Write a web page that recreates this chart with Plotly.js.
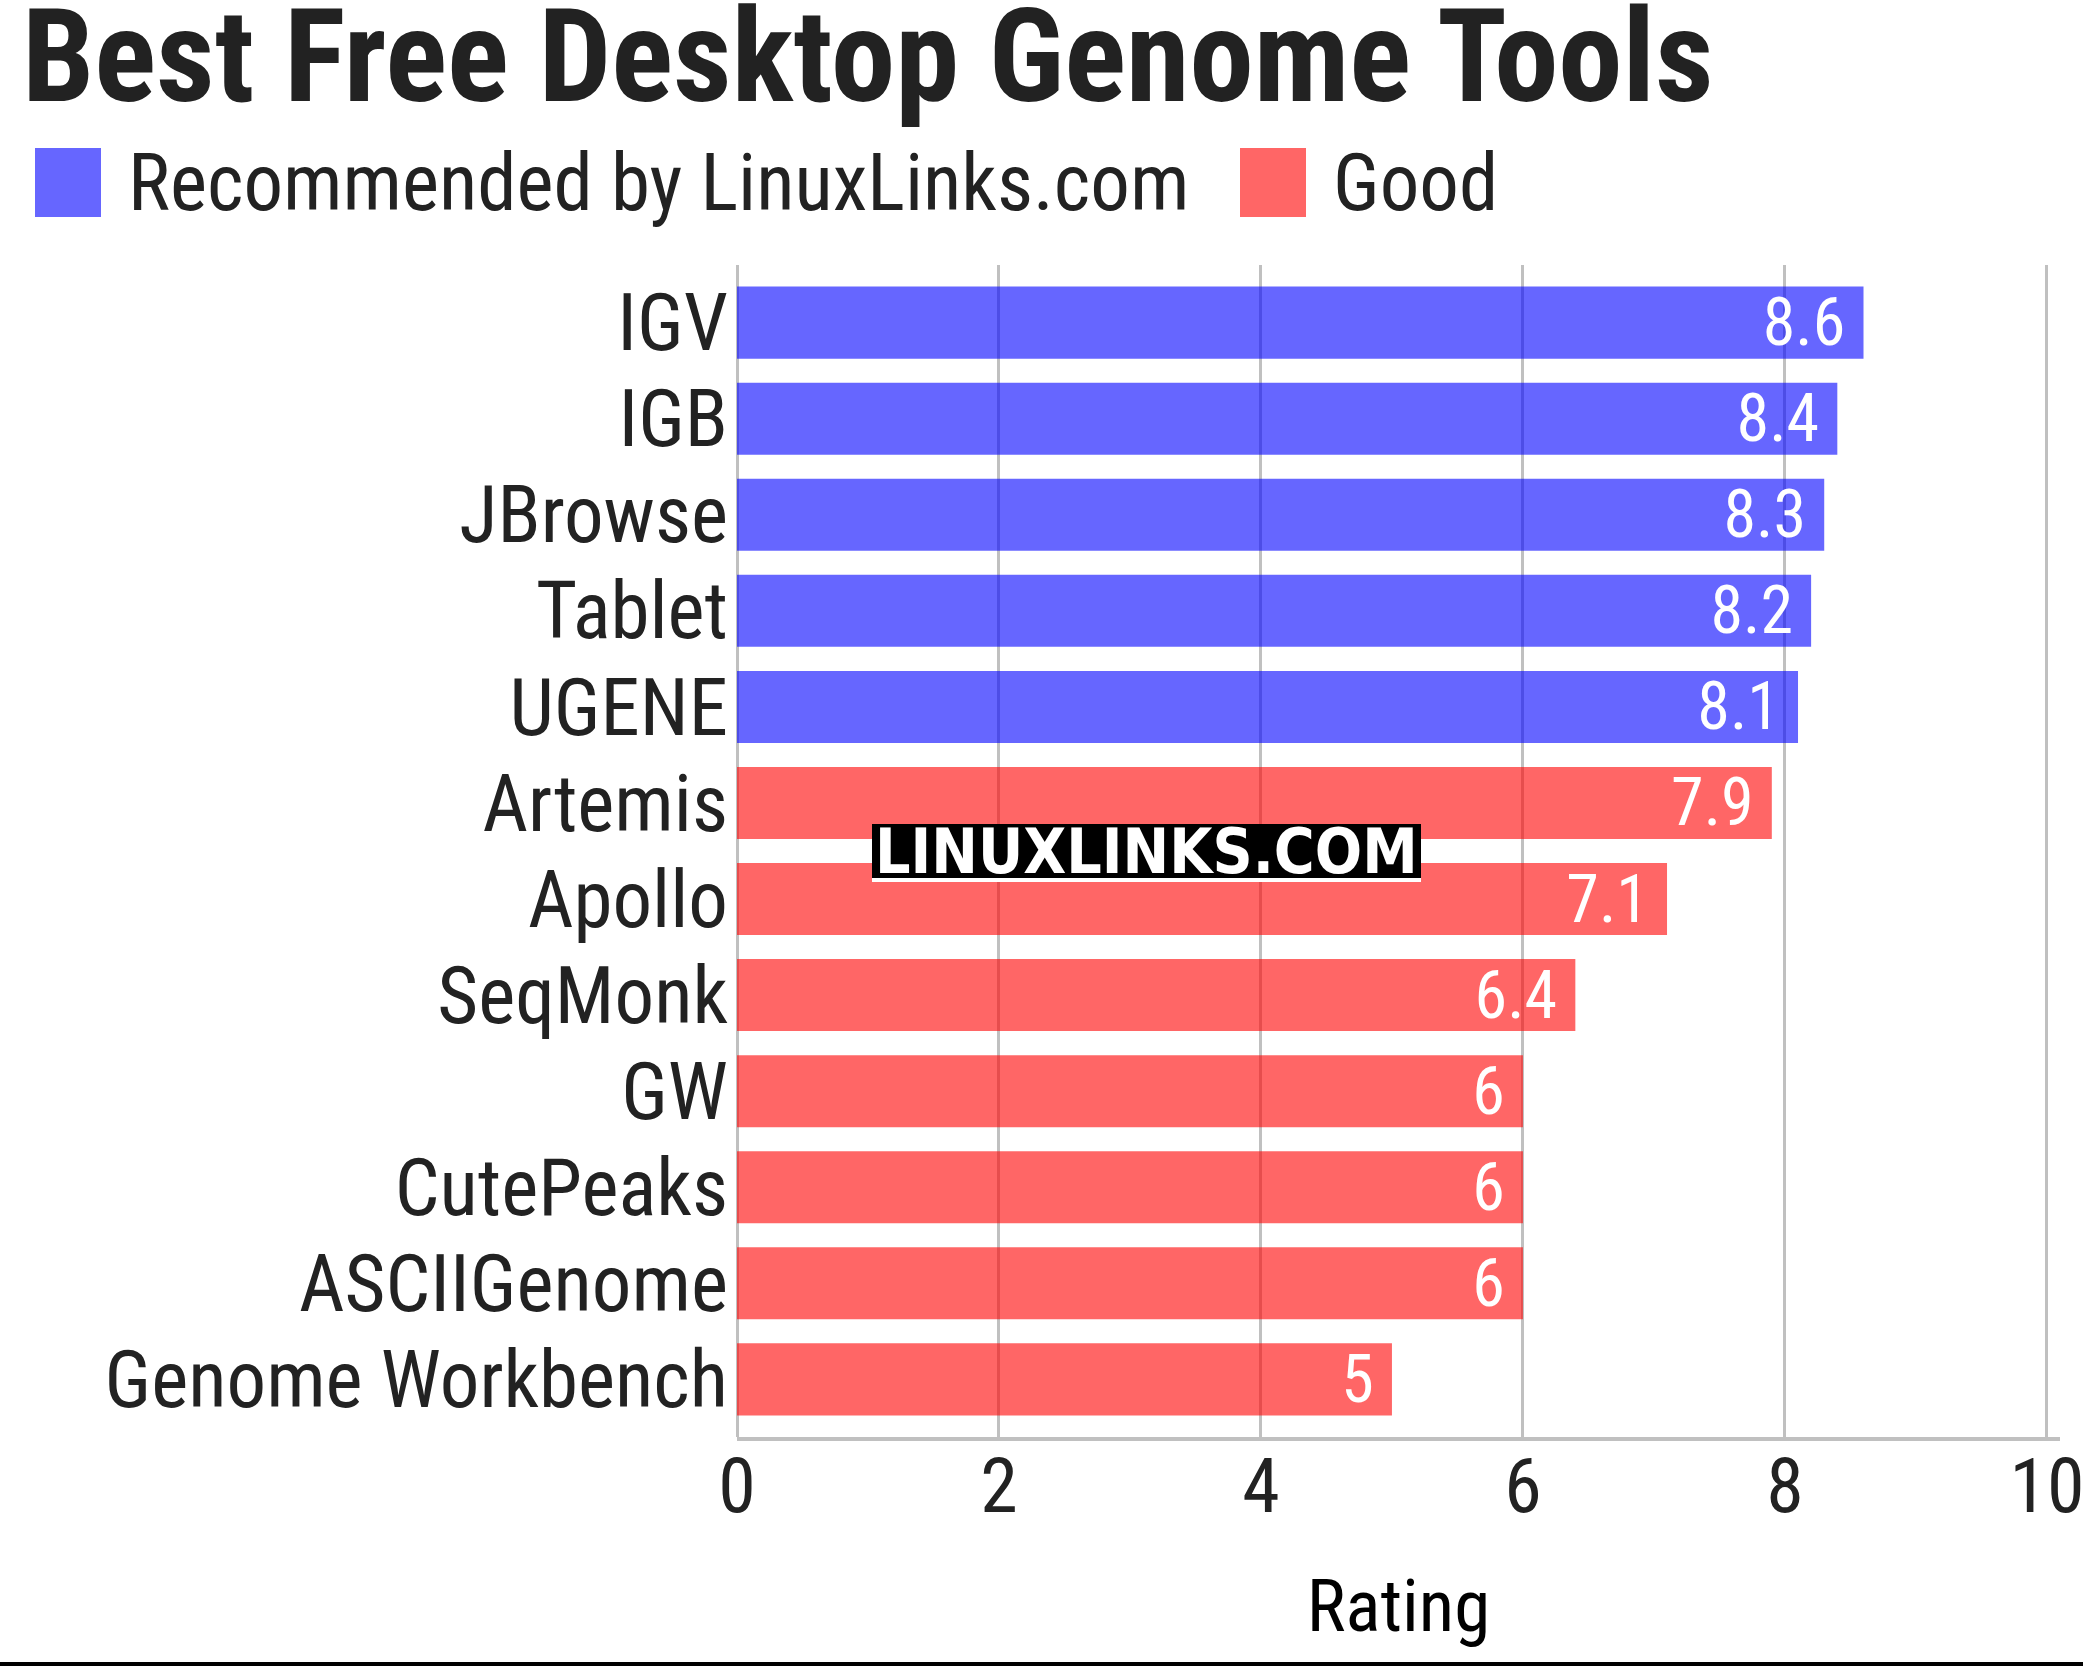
<!DOCTYPE html>
<html>
<head>
<meta charset="utf-8">
<script src="https://cdn.plot.ly/plotly-3.0.1.min.js"></script>
<style>html,body{margin:0;padding:0;background:#fff;}#chart{width:2083px;height:1666px;}</style>
</head>
<body>
<div id="chart"></div>
<script>
// ---- data ----
const chartTitle = 'Best Free Desktop Genome Tools';
const axisTitle = 'Rating';
const seriesNames = ['Recommended by LinuxLinks.com', 'Good'];
const recommendedTools = ['IGV', 'IGB', 'JBrowse', 'Tablet', 'UGENE'];
const recommendedRatings = [8.6, 8.4, 8.3, 8.2, 8.1];
const goodTools = ['Artemis', 'Apollo', 'SeqMonk', 'GW', 'CutePeaks', 'ASCIIGenome', 'Genome Workbench'];
const goodRatings = [7.9, 7.1, 6.4, 6, 6, 6, 5];
const xTickValues = [0, 2, 4, 6, 8, 10];
const watermarkText = 'LINUXLINKS.COM';

// ---- layout helpers (pixel -> paper) ----
const W = 2083, H = 1666;
const L = 737, R = 2060, T = 265, B = 1437;
const px = x => (x - L) / (R - L);
const py = y => (B - y) / (B - T);

const FONT = '"Roboto Condensed", "Liberation Sans Narrow", "DejaVu Sans Condensed", Roboto, sans-serif';
const blue = 'rgba(0,0,255,0.6)';
const red = 'rgba(255,0,0,0.6)';
const allTools = recommendedTools.concat(goodTools);

const common = {
  type: 'bar', orientation: 'h',
  texttemplate: '%{x}\u00a0',
  textposition: 'inside', insidetextanchor: 'end', textangle: 0,
  constraintext: 'none',
  insidetextfont: {family: FONT, size: 66, color: '#ffffff'},
  hoverinfo: 'x+y', showlegend: false
};

const traces = [
  Object.assign({}, common, {name: seriesNames[0], y: recommendedTools, x: recommendedRatings, marker: {color: blue}}),
  Object.assign({}, common, {name: seriesNames[1], y: goodTools, x: goodRatings, marker: {color: red}})
];

const layout = {
  width: W, height: H,
  margin: {l: L, r: W - R, t: T, b: H - B, pad: 0},
  paper_bgcolor: '#ffffff', plot_bgcolor: '#ffffff',
  font: {family: FONT, color: '#222222'},
  barmode: 'overlay', bargap: 0.25,
  title: {
    text: chartTitle, xref: 'container', yref: 'container',
    x: 22 / W, xanchor: 'left', y: 1 - 56 / H, yanchor: 'middle',
    font: {family: FONT, size: 129, weight: 700, color: '#222222'}
  },
  xaxis: {
    range: [0, 10.1], tickvals: xTickValues, ticktext: xTickValues.map(String),
    showgrid: true, gridcolor: '#c0c0c0', gridwidth: 3,
    zeroline: true, zerolinecolor: '#c0c0c0', zerolinewidth: 3,
    showline: true, linecolor: '#c0c0c0', linewidth: 4,
    ticks: '', ticklabelstandoff: -20, ticklabeloverflow: 'allow',
    tickfont: {family: FONT, size: 76, color: '#222222'},
    title: {text: axisTitle, standoff: 51, font: {family: FONT, size: 73, color: '#000000'}},
    fixedrange: true
  },
  yaxis: {
    type: 'category', categoryorder: 'array', categoryarray: allTools,
    range: [allTools.length - 1 + 0.6, -0.6],
    showgrid: false, zeroline: false, showline: false,
    ticks: '', ticklabelstandoff: 8,
    tickfont: {family: FONT, size: 79, color: '#222222'},
    fixedrange: true
  },
  shapes: [
    // legend swatches
    {type: 'rect', xref: 'paper', yref: 'paper', x0: px(35), x1: px(101), y0: py(148), y1: py(217), fillcolor: blue, line: {width: 0}},
    {type: 'rect', xref: 'paper', yref: 'paper', x0: px(1240), x1: px(1306), y0: py(148), y1: py(217), fillcolor: red, line: {width: 0}},
    // watermark box
    {type: 'rect', xref: 'paper', yref: 'paper', x0: px(872), x1: px(1421), y0: py(824), y1: py(878), fillcolor: '#000000', line: {width: 0}},
    {type: 'rect', xref: 'paper', yref: 'paper', x0: px(872), x1: px(1421), y0: py(878), y1: py(882), fillcolor: '#ffffff', line: {width: 0}},
    // bottom rule
    {type: 'line', xref: 'paper', yref: 'paper', x0: px(0), x1: px(W), y0: py(1664), y1: py(1664), line: {color: '#000000', width: 4}}
  ],
  annotations: [
    {xref: 'paper', yref: 'paper', x: px(126), y: py(183), xanchor: 'left', yanchor: 'middle', showarrow: false,
     text: seriesNames[0], font: {family: FONT, size: 79, color: '#222222'}},
    {xref: 'paper', yref: 'paper', x: px(1331), y: py(183), xanchor: 'left', yanchor: 'middle', showarrow: false,
     text: seriesNames[1], font: {family: FONT, size: 79, color: '#222222'}},
    {xref: 'paper', yref: 'paper', x: px(1146), y: py(851), xanchor: 'center', yanchor: 'middle', showarrow: false,
     text: '<b>' + watermarkText + '</b>', font: {family: '"DejaVu Sans Condensed", "Liberation Sans Narrow", "DejaVu Sans", sans-serif', size: 62, color: '#ffffff'}}
  ]
};

Plotly.newPlot('chart', traces, layout, {displayModeBar: false, staticPlot: true});
</script>
</body>
</html>
